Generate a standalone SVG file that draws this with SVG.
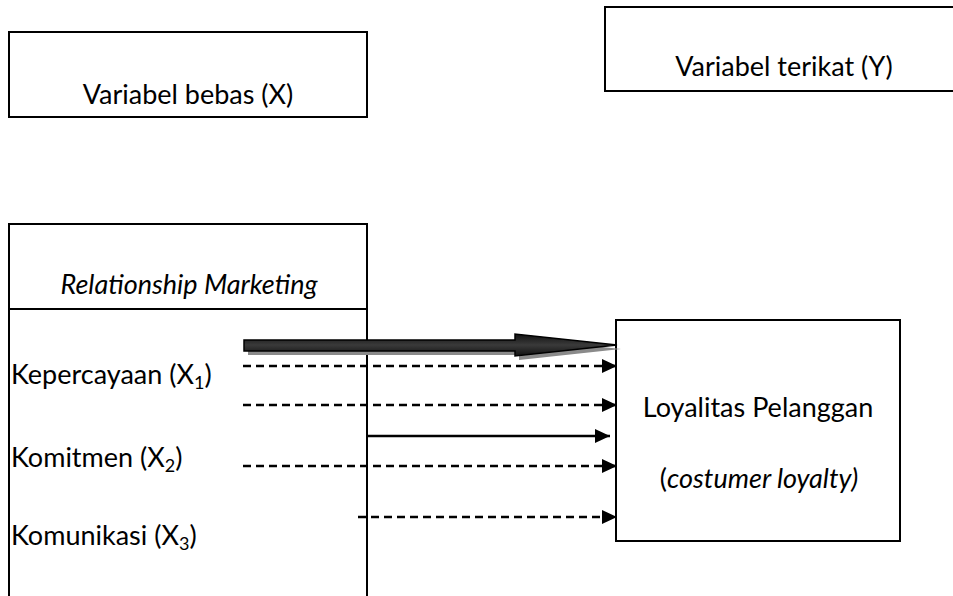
<svg xmlns="http://www.w3.org/2000/svg" width="953" height="596" viewBox="0 0 953 596">
<style>
.box{fill:#fff;stroke:#000;stroke-width:2}
.t{font-family:Lato,"Open Sans","Liberation Sans",sans-serif;font-size:27px;fill:#000}
.i{font-style:italic}
.dash{stroke:#000;stroke-width:2.5;stroke-dasharray:8 5;fill:none}
.solid{stroke:#000;stroke-width:2.5;fill:none}
</style>
<defs>
<marker id="ah" viewBox="0 0 15 14" refX="15" refY="7" markerWidth="15" markerHeight="14" markerUnits="userSpaceOnUse" orient="auto">
<path d="M0,0 L15,7 L0,14 Z" fill="#000"/>
</marker>
<linearGradient id="sh" x1="0" y1="0" x2="0" y2="1">
<stop offset="0" stop-color="#111"/>
<stop offset="0.5" stop-color="#3a3a3a"/>
<stop offset="1" stop-color="#111"/>
</linearGradient>
</defs>
<g id="node-x-label">
<rect class="box" x="9" y="32" width="358" height="85"/>
<text class="t" x="188" y="104" text-anchor="middle">Variabel bebas (X)</text>
</g>
<g id="node-y-label">
<rect class="box" x="605" y="7" width="360" height="84"/>
<text class="t" x="784" y="76" text-anchor="middle">Variabel terikat (Y)</text>
</g>
<g id="node-rm">
<rect class="box" x="9" y="224" width="358" height="380"/>
<line x1="9" y1="309" x2="367" y2="309" stroke="#000" stroke-width="2"/>
<text class="t i" x="189" y="294" text-anchor="middle" font-size="28">Relationship Marketing</text>
<text class="t" x="11" y="384">Kepercayaan (X<tspan font-size="18" dy="5">1</tspan><tspan dy="-5">)</tspan></text>
<text class="t" x="11" y="467">Komitmen (X<tspan font-size="18" dy="5">2</tspan><tspan dy="-5">)</tspan></text>
<text class="t" x="11" y="545">Komunikasi (X<tspan font-size="18" dy="5">3</tspan><tspan dy="-5">)</tspan></text>
</g>
<g id="node-loyalty">
<rect class="box" x="616" y="320" width="284" height="221"/>
<text class="t" x="758" y="417" text-anchor="middle">Loyalitas Pelanggan</text>
<text class="t" x="759" y="488" text-anchor="middle">(<tspan class="i">costumer loyalty)</tspan></text>
</g>
<g id="connectors">
<polygon points="248,344 519,344 519,338 621,349 519,360 519,355 248,355" fill="#8a8a8a"/>
<polygon points="244,340 515,340 515,334 617,345 515,356 515,351 244,351" fill="url(#sh)" stroke="#000" stroke-width="1.5"/>
<line class="dash" x1="243" y1="366" x2="617" y2="366" marker-end="url(#ah)"/>
<line class="dash" x1="243" y1="405" x2="617" y2="405" marker-end="url(#ah)"/>
<line class="solid" x1="367" y1="436" x2="610" y2="436" marker-end="url(#ah)"/>
<line class="dash" x1="243" y1="466" x2="617" y2="466" marker-end="url(#ah)"/>
<line class="dash" x1="358" y1="517" x2="617" y2="517" marker-end="url(#ah)"/>
</g>
</svg>
